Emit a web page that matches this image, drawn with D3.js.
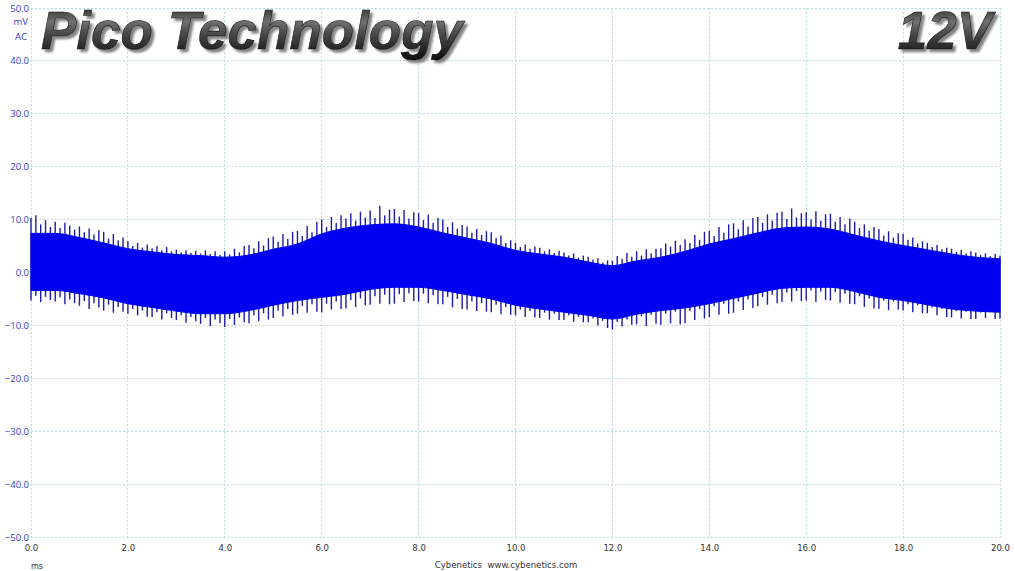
<!DOCTYPE html>
<html>
<head>
<meta charset="utf-8">
<script src="https://cdn.jsdelivr.net/npm/d3@7"></script>
<style>
  body { margin: 0; background: #fff; }
  svg { display: block; }
</style>
</head>
<body>
<svg id="scope" width="1015" height="571"></svg>
<script>
"use strict";

// time ticks (ms) and voltage ticks (mV)
const X_TICKS = [0, 2, 4, 6, 8, 10, 12, 14, 16, 18, 20];
const Y_TICKS = [50, 40, 30, 20, 10, 0, -10, -20, -30, -40, -50];

// solid part of the ripple band, one value every 0.5 ms
const BODY_STEP = 0.5;
const bodyTop = [7.4, 7.4, 6.6, 5.6, 4.5, 3.9, 3.4, 3.2, 2.9, 3.3,
  4.4, 5.4, 7.3, 8.4, 9.0, 9.2, 8.6, 7.5, 6.5, 5.5,
  4.2, 3.5, 2.9, 2.0, 1.3, 2.2, 2.9, 4.0, 5.4, 6.4,
  7.5, 8.4, 8.6, 8.2, 7.1, 6.0, 5.1, 4.3, 3.5, 2.9, 2.6];
const bodyBot = [-3.4, -3.4, -4.0, -4.8, -5.9, -6.6, -7.3, -7.8, -7.8, -7.2,
  -6.2, -5.3, -4.7, -4.1, -3.2, -2.8, -2.8, -3.4, -4.2, -5.0,
  -6.2, -6.9, -7.5, -8.1, -8.8, -7.9, -7.2, -6.7, -5.9, -4.9,
  -3.9, -3.0, -2.8, -2.8, -3.6, -4.7, -5.3, -6.1, -6.9, -7.3, -7.5];

// spike tips above and below the band, one every 0.1 ms
const SPIKE_STEP = 0.1;
const spikeTop = [
  10.3, 10.8, 9.1, 9.9, 8.6,   9.6, 8.4, 9.4, 8.9, 8.1,
  8.7, 7.6, 8.3, 7.2, 8.0,     7.7, 6.4, 7.3, 6.1, 6.6,
  5.9, 5.0, 5.6, 4.7, 5.3,     4.6, 5.0, 4.2, 4.8, 4.0,
  4.3, 3.8, 4.2, 3.7, 4.1,     3.6, 4.2, 3.5, 4.0, 3.3,
  4.0, 3.4, 4.5, 3.8, 5.0,     5.2, 4.6, 5.9, 5.1, 6.5,
  6.8, 5.8, 7.3, 6.4, 7.7,     7.9, 6.9, 8.8, 7.6, 9.6,
  10.0, 8.6, 10.5, 9.4, 10.8,  10.2, 11.2, 9.8, 11.5, 10.4,
  11.7, 10.3, 12.6, 10.8, 11.9, 12.0, 10.6, 11.8, 10.2, 11.4,
  11.2, 9.9, 10.9, 9.4, 10.3,  10.0, 8.6, 9.5, 8.3, 9.0,
  8.7, 7.5, 8.2, 7.1, 7.8,     7.6, 6.5, 7.0, 5.6, 6.1,
  5.6, 4.8, 5.3, 4.5, 4.9,     4.7, 4.0, 4.4, 3.7, 4.1,
  3.8, 3.2, 3.6, 2.8, 3.2,     3.0, 2.4, 2.7, 1.9, 2.3,
  2.2, 3.1, 2.6, 3.7, 3.0,     4.0, 3.2, 4.4, 3.6, 4.5,
  4.6, 5.5, 4.9, 6.0, 5.2,     6.3, 5.6, 7.1, 6.2, 7.7,
  7.9, 6.9, 8.6, 7.5, 9.1,     9.3, 8.2, 9.9, 8.7, 10.3,
  10.5, 9.4, 11.0, 9.8, 11.3,  11.5, 10.1, 12.1, 10.4, 11.2,
  11.4, 10.0, 11.6, 9.8, 11.0, 11.1, 9.6, 10.5, 9.1, 10.2,
  9.6, 8.4, 9.1, 7.9, 8.6,     8.2, 7.0, 7.8, 6.6, 7.4,
  7.3, 6.2, 6.6, 5.5, 5.9,     5.6, 4.8, 5.2, 4.4, 4.7,
  4.5, 3.9, 4.3, 3.6, 4.0,     3.8, 3.3, 3.6, 3.1, 3.5,
  3.2];
const spikeBot = [
  -5.3, -4.4, -5.6, -4.6, -5.2,   -5.5, -4.7, -6.0, -5.1, -5.8,
  -6.3, -5.4, -6.9, -5.8, -6.6,   -7.2, -6.1, -7.6, -6.5, -7.4,
  -7.8, -6.9, -8.1, -7.2, -8.3,   -8.4, -7.5, -8.9, -7.7, -8.6,
  -9.0, -8.1, -9.5, -8.4, -9.2,   -9.7, -8.6, -10.1, -8.9, -9.6,
  -10.3, -8.8, -9.9, -8.5, -9.4,  -9.6, -8.1, -9.2, -7.7, -8.9,
  -8.6, -7.2, -8.3, -6.9, -8.0,   -7.8, -6.3, -7.6, -6.0, -7.4,
  -7.5, -5.9, -7.0, -5.5, -6.9,   -6.8, -5.2, -6.5, -4.9, -6.2,
  -6.1, -4.5, -5.9, -4.2, -6.0,   -5.9, -4.1, -5.6, -3.9, -5.4,
  -5.5, -4.0, -5.8, -4.3, -6.0,   -6.0, -4.6, -6.6, -5.0, -6.9,
  -7.0, -5.5, -7.3, -5.8, -7.4,   -7.5, -6.1, -7.9, -6.5, -8.0,
  -8.1, -7.0, -8.4, -7.3, -8.5,   -8.6, -7.6, -8.9, -7.8, -9.0,
  -9.0, -8.1, -9.3, -8.4, -9.4,   -9.4, -8.7, -10.0, -9.1, -10.5,
  -10.8, -9.3, -10.2, -8.9, -9.9, -9.8, -8.3, -10.1, -8.0, -9.7,
  -9.9, -7.8, -9.6, -7.4, -9.8,   -9.6, -7.3, -9.0, -6.9, -8.7,
  -8.4, -6.4, -8.0, -5.9, -7.8,   -7.6, -5.5, -7.1, -5.1, -6.7,
  -6.4, -4.6, -6.1, -4.2, -5.8,   -5.6, -3.8, -5.5, -3.5, -5.4,
  -5.3, -3.4, -5.6, -3.6, -5.2,   -5.3, -3.7, -5.7, -4.0, -5.9,
  -6.0, -4.5, -6.5, -4.9, -6.8,   -6.9, -5.3, -7.1, -5.5, -7.0,
  -7.2, -6.0, -7.5, -6.2, -7.7,   -7.7, -6.6, -8.1, -6.9, -8.4,
  -8.5, -7.3, -8.7, -7.4, -8.8,   -8.8, -7.6, -8.6, -7.5, -8.8,
  -8.7];

const PLOT = { LEFT: 31, RIGHT: 1000, TOP: 8, BOTTOM: 537 };
const COLORS = {
  GRID: "#bcd6e2",
  Y_LABEL: "#3a3ac8",
  X_LABEL: "#333",
  BAND: "#0000f0",
  SPIKE: "#1c1ca6"
};

const svg = d3.select("#scope");
const x = d3.scaleLinear().domain([0, 20]).range([PLOT.LEFT, PLOT.RIGHT]);
const y = d3.scaleLinear().domain([-50, 50]).range([PLOT.BOTTOM, PLOT.TOP]);

// grid
const grid = svg.append("g").attr("stroke", COLORS.GRID).attr("stroke-width", 1)
  .attr("stroke-dasharray", "2,2").attr("shape-rendering", "crispEdges");
grid.selectAll("line.v").data(X_TICKS).join("line").attr("class", "v")
  .attr("x1", d => x(d)).attr("x2", d => x(d)).attr("y1", PLOT.TOP).attr("y2", PLOT.BOTTOM);
grid.selectAll("line.h").data(Y_TICKS).join("line").attr("class", "h")
  .attr("x1", PLOT.LEFT).attr("x2", PLOT.RIGHT).attr("y1", d => y(d)).attr("y2", d => y(d));

// y axis labels
const yAxis = d3.axisLeft(y).tickValues(Y_TICKS).tickFormat(d3.format(".1f")).tickSize(0).tickPadding(2);
svg.append("g").attr("transform", `translate(${PLOT.LEFT},0)`).call(yAxis)
  .call(g => g.select(".domain").remove())
  .call(g => g.selectAll("text").attr("fill", COLORS.Y_LABEL)
    .attr("font-family", "'Open Sans', sans-serif").attr("font-size", 9.5));

svg.append("text").attr("x", 28).attr("y", 25).attr("text-anchor", "end")
  .attr("fill", COLORS.Y_LABEL).attr("font-family", "'Open Sans', sans-serif")
  .attr("font-size", 9.5).text("mV");
svg.append("text").attr("x", 27).attr("y", 40).attr("text-anchor", "end")
  .attr("fill", COLORS.Y_LABEL).attr("font-family", "'Open Sans', sans-serif")
  .attr("font-size", 9.5).text("AC");

// x axis labels
const xAxis = d3.axisBottom(x).tickValues(X_TICKS).tickFormat(d3.format(".1f")).tickSize(0).tickPadding(7);
svg.append("g").attr("transform", `translate(0,${PLOT.BOTTOM})`).call(xAxis)
  .call(g => g.select(".domain").remove())
  .call(g => g.selectAll("text").attr("fill", COLORS.X_LABEL)
    .attr("font-family", "'DejaVu Sans Condensed', sans-serif").attr("font-size", 9.5));

svg.append("text").attr("x", 37).attr("y", 569).attr("text-anchor", "middle")
  .attr("fill", COLORS.X_LABEL).attr("font-family", "'DejaVu Sans Condensed', sans-serif")
  .attr("font-size", 9).text("ms");
svg.append("text").attr("x", 506).attr("y", 568).attr("text-anchor", "middle")
  .attr("fill", COLORS.X_LABEL).attr("font-family", "'DejaVu Sans Condensed', sans-serif")
  .attr("font-size", 9.5).attr("xml:space", "preserve").text("Cybenetics  www.cybenetics.com");

// trace: spikes first, solid band on top
const trace = svg.append("g");
trace.append("g").attr("stroke", COLORS.SPIKE).attr("stroke-width", 1.4)
  .selectAll("line.up").data(spikeTop).join("line").attr("class", "up")
  .attr("x1", (d, i) => x(i * SPIKE_STEP)).attr("x2", (d, i) => x(i * SPIKE_STEP))
  .attr("y1", y(0)).attr("y2", d => y(d));
trace.append("g").attr("stroke", COLORS.SPIKE).attr("stroke-width", 1.4)
  .selectAll("line.dn").data(spikeBot).join("line").attr("class", "dn")
  .attr("x1", (d, i) => x(i * SPIKE_STEP)).attr("x2", (d, i) => x(i * SPIKE_STEP))
  .attr("y1", y(0)).attr("y2", d => y(d));

const band = d3.area()
  .x((d, i) => x(i * BODY_STEP))
  .y0((d, i) => y(bodyBot[i]))
  .y1(d => y(d))
  .curve(d3.curveMonotoneX);
trace.append("path").datum(bodyTop).attr("d", band)
  .attr("fill", COLORS.BAND).attr("stroke", COLORS.BAND).attr("stroke-width", 1);

// titles with metallic look and a soft drop shadow
const defs = svg.append("defs");
const grad = defs.append("linearGradient").attr("id", "metal")
  .attr("x1", 0).attr("y1", 0).attr("x2", 0).attr("y2", 1);
grad.append("stop").attr("offset", "0%").attr("stop-color", "#1a1a1a");
grad.append("stop").attr("offset", "35%").attr("stop-color", "#707070");
grad.append("stop").attr("offset", "55%").attr("stop-color", "#4a4a4a");
grad.append("stop").attr("offset", "100%").attr("stop-color", "#0d0d0d");
defs.append("filter").attr("id", "shadow").attr("filterUnits", "userSpaceOnUse")
  .attr("x", 0).attr("y", 0).attr("width", 1015).attr("height", 80)
  .append("feDropShadow").attr("dx", 3).attr("dy", 3).attr("stdDeviation", 1)
  .attr("flood-color", "#777").attr("flood-opacity", 0.9);

function drawTitle(txt, tx, anchor) {
  svg.append("text").attr("x", tx).attr("y", 49).attr("text-anchor", anchor)
    .attr("font-family", "'Liberation Sans', Arial, sans-serif").attr("font-size", 53)
    .attr("font-style", "italic").attr("font-weight", "bold")
    .attr("fill", "url(#metal)").attr("stroke", "#111").attr("stroke-width", 0.6)
    .attr("filter", "url(#shadow)").text(txt);
}
drawTitle("Pico Technology", 41, "start");
drawTitle("12V", 992, "end");
</script>
</body>
</html>
